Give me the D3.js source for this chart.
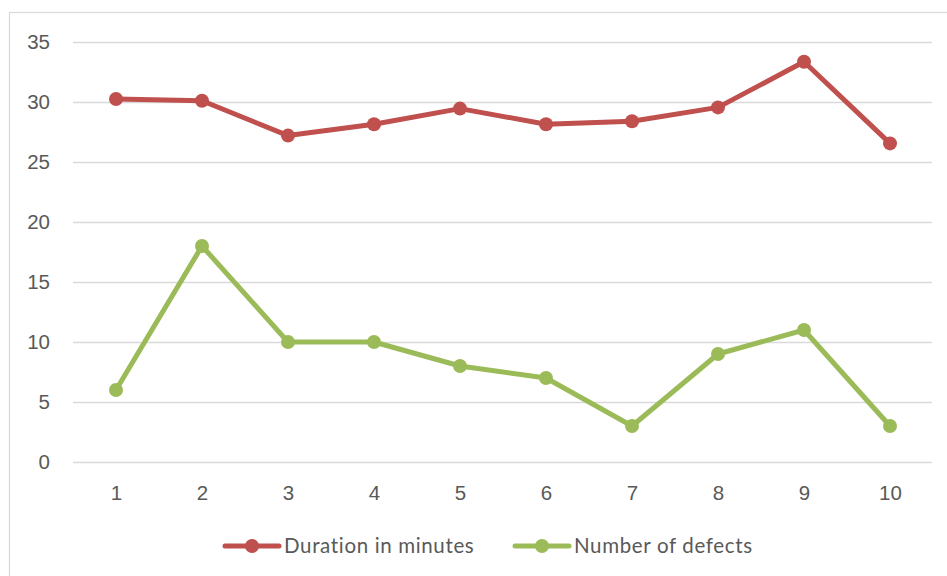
<!DOCTYPE html>
<html><head><meta charset="utf-8">
<script src="https://cdn.jsdelivr.net/npm/d3@7"></script>
<style>body{margin:0;background:#fff;} svg{display:block;font-family:Lato, "Open Sans", sans-serif;}</style>
</head><body>
<svg id="c" width="947" height="576"></svg>
<script>
const categories = [1,2,3,4,5,6,7,8,9,10];
const duration = [30.25, 30.1, 27.2, 28.15, 29.45, 28.15, 28.4, 29.55, 33.35, 26.55];
const defects = [6, 18, 10, 10, 8, 7, 3, 9, 11, 3];
const yTicks = [0,5,10,15,20,25,30,35];
const seriesNames = ["Duration in minutes", "Number of defects"];
const colors = ["#C0504D", "#9BBB59"];

const svg = d3.select("#c");
svg.append("rect").attr("x",9.5).attr("y",12.5).attr("width",947).attr("height",600)
  .attr("fill","#fff").attr("stroke","#D9D9D9").attr("stroke-width",1.2);

const x = d3.scalePoint().domain(categories).range([116, 890]);
const y = d3.scaleLinear().domain([0,35]).range([462, 42]);

const grid = svg.append("g");
grid.selectAll("line").data(yTicks).join("line")
  .attr("x1",73).attr("x2",932).attr("y1",d=>Math.round(y(d))+0.5).attr("y2",d=>Math.round(y(d))+0.5)
  .attr("stroke","#D9D9D9").attr("stroke-width",1.3);

const yAxis = d3.axisLeft(y).tickValues(yTicks).tickSize(0).tickPadding(0);
const ya = svg.append("g").attr("transform","translate(50,0)").call(yAxis);
ya.select(".domain").remove();
ya.selectAll("text").attr("fill","#595959").style("font-size","20.5px").attr("text-anchor","end");

const xAxis = d3.axisBottom(x).tickSize(0).tickPadding(0);
const xa = svg.append("g").attr("transform","translate(0,493)").call(xAxis);
xa.select(".domain").remove();
xa.selectAll("text").attr("fill","#595959").style("font-size","20.5px").attr("dy","0.35em");

const series = [duration, defects];
series.forEach((vals,i)=>{
  const data = categories.map((c,j)=>({c, v: vals[j]}));
  svg.append("path").datum(data)
    .attr("fill","none").attr("stroke",colors[i]).attr("stroke-width",5).attr("stroke-linejoin","round")
    .attr("d", d3.line().x(d=>x(d.c)).y(d=>y(d.v)));
  svg.append("g").selectAll("circle").data(data).join("circle")
    .attr("cx",d=>x(d.c)).attr("cy",d=>y(d.v)).attr("r",7).attr("fill",colors[i]);
});

const legX = [225, 515];
const leg = svg.append("g");
seriesNames.forEach((n,i)=>{
  const g = leg.append("g").attr("transform",`translate(${legX[i]},546)`);
  g.append("line").attr("x1",0).attr("x2",54).attr("y1",0).attr("y2",0)
    .attr("stroke",colors[i]).attr("stroke-width",5).attr("stroke-linecap","round");
  g.append("circle").attr("cx",27).attr("cy",0).attr("r",7).attr("fill",colors[i]);
  g.append("text").attr("x",59).attr("y",0).attr("dy","0.35em").attr("fill","#595959")
    .style("font-size","20.5px").style("letter-spacing","0.65px").text(n);
});
</script>
</body></html>
